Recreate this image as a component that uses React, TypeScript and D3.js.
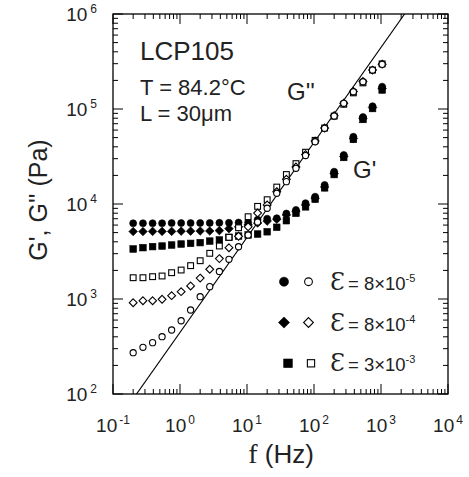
import React from "react";
import * as d3 from "d3";

// frequency (Hz)
const freqs = [0.2, 0.28, 0.39, 0.54, 0.75, 1.04, 1.44, 2.0, 2.78, 3.87, 5.38, 7.48, 10.4, 14.4, 20, 27.8, 38.7, 53.8, 74.8, 104, 144, 200, 278, 387, 538, 748, 1040];

// G' (filled) and G'' (open) in Pa
const gp_8e5 = [6270, 6270, 6270, 6270, 6300, 6300, 6300, 6310, 6320, 6330, 6350, 6380, 6420, 6840, 7000, 7080, 7940, 8650, 10200, 11940, 15850, 21900, 32800, 51050, 82200, 107000, 171800];
const gp_8e4 = [5130, 5130, 5150, 5150, 5150, 5180, 5180, 5200, 5200, 5250, 5500, 5750, 6030, 6310, 6610, 6920, 7670, 8410, 9770, 11480, 15140, 20890, 31620, 48980, 79430, 103500, 164100];
const gp_3e3 = [3360, 3470, 3560, 3610, 3700, 3790, 3850, 3920, 4070, 4180, 4460, 4600, 4720, 4830, 5100, 5690, 6670, 7980, 9330, 11220, 14790, 20420, 30900, 47860, 77620, 101200, 158500];
const gpp_8e5 = [272, 310, 347, 401, 472, 590, 766, 1057, 1349, 1950, 2618, 3548, 4721, 6457, 9016, 12970, 17180, 23770, 32360, 45290, 62660, 84330, 114800, 152100, 193600, 257000, 295100];
const gpp_8e4 = [914, 959, 959, 993, 1084, 1194, 1371, 1660, 2056, 2661, 3467, 4571, 5754, 8035, 9772, 13490, 18200, 24550, 33110, 45920, 63100, 85110, 115300, 153100, 195000, 257000, 296500];
const gpp_3e3 = [1675, 1675, 1718, 1746, 1892, 2018, 2244, 2529, 3027, 3614, 4457, 5623, 7345, 9441, 11090, 15070, 20420, 26610, 35080, 46770, 63100, 84140, 112200, 147900, 188400, 257000, 298500];

// reference slope-1 line
const lineFreqs = [0.1, 10000];
const lineG = [44.5, 4450000];

const xTickExps = ["-1", "0", "1", "2", "3", "4"];
const xTickVals = [0.1, 1, 10, 100, 1000, 10000];
const yTickExps = ["2", "3", "4", "5", "6"];
const yTickVals = [1e2, 1e3, 1e4, 1e5, 1e6];

const legendMant = ["8×10", "8×10", "3×10"];
const legendExp = ["-5", "-4", "-3"];
const legendShapes = ["circle", "diamond", "square"];

const W = 469, H = 477;
const L = 113, R = 448, T = 14, B = 394;
const SANS = "'Liberation Sans', Arial, Helvetica, sans-serif";

function Marker({ shape, x, y, filled, s = 1 }: { shape: string; x: number; y: number; filled: boolean; s?: number }) {
  const fill = filled ? "#000" : "#fff";
  const stroke = "#000";
  const sw = filled ? 0.6 : 1.1;
  if (shape === "circle") {
    const r = (filled ? 3.5 : 3.1) * s;
    return <circle cx={x} cy={y} r={r} fill={fill} stroke={stroke} strokeWidth={sw} />;
  }
  if (shape === "square") {
    const h = (filled ? 3.3 : 2.9) * s;
    return <rect x={x - h} y={y - h} width={2 * h} height={2 * h} fill={fill} stroke={stroke} strokeWidth={sw} />;
  }
  const h = (filled ? 4.3 : 3.9) * s;
  return <path d={`M${x},${y - h}L${x + h},${y}L${x},${y + h}L${x - h},${y}Z`} fill={fill} stroke={stroke} strokeWidth={sw} />;
}

export default function App() {
  const x = d3.scaleLog().domain([0.1, 1e4]).range([L, R]);
  const y = d3.scaleLog().domain([1e2, 1e6]).range([B, T]);

  const xMinor = x.ticks().filter((t) => !xTickVals.some((v) => Math.abs(v - t) / v < 1e-6));
  const yMinor = y.ticks().filter((t) => !yTickVals.some((v) => Math.abs(v - t) / v < 1e-6));

  const series = [
    { data: gp_8e5, shape: "circle", filled: true },
    { data: gp_8e4, shape: "diamond", filled: true },
    { data: gp_3e3, shape: "square", filled: true },
    { data: gpp_3e3, shape: "square", filled: false },
    { data: gpp_8e4, shape: "diamond", filled: false },
    { data: gpp_8e5, shape: "circle", filled: false },
  ];

  const line = d3.line<number>().x((f) => x(f)).y((_, i) => y(lineG[i]));

  const MAJ = 10, MIN = 5;

  return (
    <svg width={W} height={H} style={{ position: "absolute", left: 0, top: 0 }} fontFamily={SANS}>
      <defs>
        <clipPath id="plotclip">
          <rect x={L} y={T} width={R - L} height={B - T} />
        </clipPath>
      </defs>
      <rect x={0} y={0} width={W} height={H} fill="#fff" />

      {/* frame */}
      <rect x={L} y={T} width={R - L} height={B - T} fill="none" stroke="#000" strokeWidth={1.3} />

      {/* x ticks (bottom & top) */}
      {xTickVals.map((v) => (
        <g key={"xM" + v}>
          <line x1={x(v)} x2={x(v)} y1={B} y2={B - MAJ} stroke="#000" strokeWidth={1} />
          <line x1={x(v)} x2={x(v)} y1={T} y2={T + MAJ} stroke="#000" strokeWidth={1} />
        </g>
      ))}
      {xMinor.map((v) => (
        <g key={"xm" + v}>
          <line x1={x(v)} x2={x(v)} y1={B} y2={B - MIN} stroke="#000" strokeWidth={1} />
          <line x1={x(v)} x2={x(v)} y1={T} y2={T + MIN} stroke="#000" strokeWidth={1} />
        </g>
      ))}
      {/* y ticks (left & right) */}
      {yTickVals.map((v) => (
        <g key={"yM" + v}>
          <line x1={L} x2={L + MAJ} y1={y(v)} y2={y(v)} stroke="#000" strokeWidth={1} />
          <line x1={R} x2={R - MAJ} y1={y(v)} y2={y(v)} stroke="#000" strokeWidth={1} />
        </g>
      ))}
      {yMinor.map((v) => (
        <g key={"ym" + v}>
          <line x1={L} x2={L + MIN} y1={y(v)} y2={y(v)} stroke="#000" strokeWidth={1} />
          <line x1={R} x2={R - MIN} y1={y(v)} y2={y(v)} stroke="#000" strokeWidth={1} />
        </g>
      ))}

      {/* x tick labels */}
      {xTickVals.map((v, i) => (
        <text key={"xl" + v} x={x(v)} y={432} textAnchor="middle" fontSize={19} fill="#222">
          10<tspan fontSize={12} dy={-8} dx={2}>{xTickExps[i]}</tspan>
        </text>
      ))}
      {/* y tick labels */}
      {yTickVals.map((v, i) => (
        <text key={"yl" + v} x={97} y={y(v) + 7} textAnchor="end" fontSize={19} fill="#222">
          10<tspan fontSize={12} dy={-8} dx={3}>{yTickExps[i]}</tspan>
        </text>
      ))}

      {/* axis titles */}
      <text x={281} y={463} textAnchor="middle" fontSize={26} fill="#222">
        <tspan fontFamily="'Liberation Serif', 'Times New Roman', serif" fontSize={28}>f</tspan>
        <tspan> (Hz)</tspan>
      </text>
      <text transform={`translate(47,200) rotate(-90)`} textAnchor="middle" fontSize={25} fill="#222">
        G', G'' (Pa)
      </text>

      {/* reference line */}
      <path d={line(lineFreqs) || ""} fill="none" stroke="#000" strokeWidth={1.1} clipPath="url(#plotclip)" />

      {/* data */}
      <g clipPath="url(#plotclip)">
        {series.map((s, si) =>
          s.data.map((g, i) => (
            <Marker key={si + "-" + i} shape={s.shape} x={x(freqs[i])} y={y(g)} filled={s.filled} />
          ))
        )}
      </g>

      {/* annotations */}
      <text x={140} y={60} fontSize={26} fill="#222">LCP105</text>
      <text x={140} y={95} fontSize={22} fill="#222">T = 84.2°C</text>
      <text x={140} y={121} fontSize={22} fill="#222">L = 30μm</text>
      <text x={287} y={100} fontSize={24} fill="#222">G''</text>
      <text x={353} y={178} fontSize={24} fill="#222">G'</text>

      {/* legend */}
      {legendShapes.map((sh, i) => {
        const ly = 281.7 + i * 40.8;
        return (
          <g key={"lg" + i}>
            <Marker shape={sh} x={sh === "square" ? 288 : 284} y={ly} filled={true} s={1.3} />
            <Marker shape={sh} x={sh === "square" ? 311 : 308.5} y={ly} filled={false} s={1.25} />
            <text x={330} y={ly + 8} fontSize={18.5} fill="#222">
              <tspan fontFamily="'DejaVu Serif', serif" fontSize={24}>Ɛ</tspan>
              <tspan dx={3}>= {legendMant[i]}</tspan>
              <tspan fontSize={11} dy={-8}>{legendExp[i]}</tspan>
            </text>
          </g>
        );
      })}
    </svg>
  );
}
